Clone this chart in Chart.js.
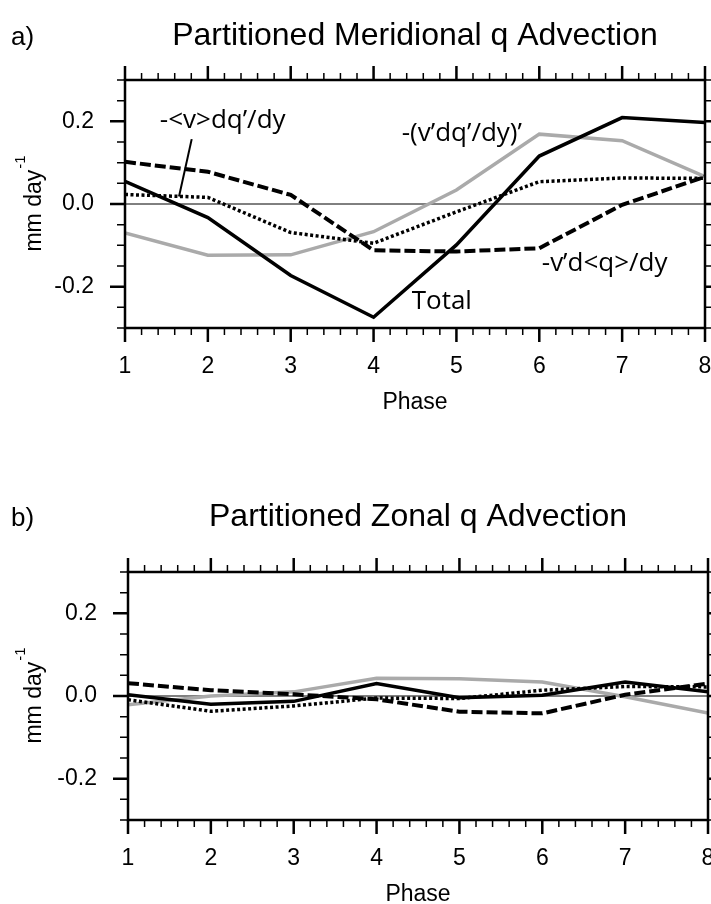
<!DOCTYPE html>
<html>
<head>
<meta charset="utf-8">
<script src="https://cdn.jsdelivr.net/npm/chart.js@4.4.0/dist/chart.umd.min.js"></script>
<style>
  html, body { margin: 0; padding: 0; background: #fff; }
  #wrap { position: relative; width: 711px; height: 904px; overflow: hidden; }
  .panel { position: absolute; left: 0; width: 711px; height: 452px; }
</style>
</head>
<body>
<div id="wrap">
  <div class="panel" style="top:0"><canvas id="chartA" width="711" height="452"></canvas></div>
  <div class="panel" style="top:452px"><canvas id="chartB" width="711" height="452"></canvas></div>
</div>
<script>
    // x축 (Phase)
    const phases = [1, 2, 3, 4, 5, 6, 7, 8];
    // y축 눈금 라벨
    const yTickValues = [-0.2, 0, 0.2];

    // a) Meridional
    const totalA = [0.055, -0.033, -0.173, -0.274, -0.099, 0.116, 0.209, 0.197];
    const eddyA  = [-0.070, -0.124, -0.123, -0.067, 0.034, 0.169, 0.153, 0.066];
    const vpA    = [0.102, 0.078, 0.022, -0.112, -0.115, -0.107, -0.002, 0.066];
    const vbarA  = [0.023, 0.016, -0.069, -0.095, -0.019, 0.054, 0.063, 0.062];

    // b) Zonal
    const totalB = [0.003, -0.020, -0.013, 0.030, -0.004, 0.002, 0.034, 0.010];
    const eddyB  = [-0.021, 0.000, 0.010, 0.043, 0.042, 0.034, -0.002, -0.041];
    const vpB    = [0.031, 0.014, 0.004, -0.008, -0.038, -0.042, 0.003, 0.030];
    const vbarB  = [-0.009, -0.037, -0.024, -0.005, -0.006, 0.014, 0.023, 0.022];

    Chart.defaults.font.family = '"Liberation Sans", Arial, sans-serif';
    Chart.defaults.color = '#000';

    function pts(arr) {
        return phases.map((p, i) => ({ x: p, y: arr[i] }));
    }

    // 선 4개 (Total 이 맨 위)
    function makeSets(total, eddy, vp, vbar) {
        return [
            { label: 'Total', data: pts(total), borderColor: '#000', borderWidth: 3.5, order: 0 },
            { label: '-<v>dq’/dy', data: pts(vbar), borderColor: '#000', borderWidth: 3.5, borderDash: [3, 2.5], order: 1 },
            { label: '-v’d<q>/dy', data: pts(vp), borderColor: '#000', borderWidth: 4, borderDash: [11, 4], order: 2 },
            { label: '-(v’dq’/dy)’', data: pts(eddy), borderColor: '#aaaaaa', borderWidth: 3.5, order: 3 },
        ].map(d => Object.assign(d, { pointRadius: 0, tension: 0, fill: false }));
    }

    // 테두리, 바깥쪽 눈금, 제목, 축 이름, 선 이름
    const frame = {
        id: 'frame',
        beforeDatasetsDraw(chart) {
            const { ctx, chartArea: a, scales: { y } } = chart;
            const y0 = y.getPixelForValue(0);
            ctx.save();
            ctx.strokeStyle = '#000';
            ctx.lineWidth = 1;
            ctx.beginPath();
            ctx.moveTo(a.left, y0);
            ctx.lineTo(a.right, y0);
            ctx.stroke();
            ctx.restore();
        },
        afterDraw(chart, args, o) {
            const { ctx, chartArea: a, scales: { x, y } } = chart;
            ctx.save();
            ctx.strokeStyle = '#000';
            ctx.fillStyle = '#000';
            ctx.lineCap = 'butt';

            // x 눈금 (위, 아래)
            for (let i = 0; i <= 35; i++) {
                const px = x.getPixelForValue(1 + i * 0.2);
                const major = i % 5 === 0;
                const len = major ? 14 : 7;
                ctx.lineWidth = major ? 2.5 : 1.5;
                ctx.beginPath();
                ctx.moveTo(px, a.top); ctx.lineTo(px, a.top - len);
                ctx.moveTo(px, a.bottom); ctx.lineTo(px, a.bottom + len);
                ctx.stroke();
            }
            // y 눈금 (왼쪽, 오른쪽)
            for (let i = -6; i <= 6; i++) {
                const py = y.getPixelForValue(i * 0.05);
                const major = i % 4 === 0;
                const len = major ? 15 : 8;
                ctx.lineWidth = major ? 2.5 : 1.5;
                ctx.beginPath();
                ctx.moveTo(a.left, py); ctx.lineTo(a.left - len, py);
                ctx.moveTo(a.right, py); ctx.lineTo(a.right + len, py);
                ctx.stroke();
            }
            ctx.lineWidth = 2.5;
            ctx.strokeRect(a.left, a.top, a.right - a.left, a.bottom - a.top);

            // 제목
            const cx = (a.left + a.right) / 2;
            ctx.textBaseline = 'alphabetic';
            ctx.textAlign = 'center';
            ctx.font = '32px "Liberation Sans"';
            ctx.fillText(o.title, cx, o.titleY);
            ctx.textAlign = 'left';
            ctx.font = '26px "Liberation Sans"';
            ctx.fillText(o.letter, 11, o.titleY);

            // x축 이름
            ctx.textAlign = 'center';
            ctx.font = '23px "Liberation Sans"';
            ctx.fillText('Phase', cx, a.bottom + 81);

            // y축 이름 (mm day^-1)
            ctx.save();
            ctx.translate(41, (a.top + a.bottom) / 2);
            ctx.rotate(-Math.PI / 2);
            ctx.textAlign = 'left';
            ctx.font = '23px "Liberation Sans"';
            const w1 = ctx.measureText('mm day').width;
            ctx.font = '15px "Liberation Sans"';
            const w2 = ctx.measureText('-1').width;
            const sx = -(w1 + w2) / 2;
            ctx.font = '23px "Liberation Sans"';
            ctx.fillText('mm day', sx, 0);
            ctx.font = '15px "Liberation Sans"';
            ctx.fillText('-1', sx + w1 + 1, -16);
            ctx.restore();

            // 선 이름
            if (o.notes) {
                ctx.font = '26px "Open Sans"';
                ctx.textAlign = 'left';
                o.notes.forEach(n => {
                    ctx.fillText(n.text, x.getPixelForValue(n.x), y.getPixelForValue(n.y));
                });
            }
            if (o.leader) {
                const l = o.leader;
                ctx.lineWidth = 2;
                ctx.beginPath();
                ctx.moveTo(x.getPixelForValue(l[0]), y.getPixelForValue(l[1]));
                ctx.lineTo(x.getPixelForValue(l[2]), y.getPixelForValue(l[3]));
                ctx.stroke();
            }
            ctx.restore();
        }
    };

    function makeConfig(sets, p) {
        return {
            type: 'line',
            data: { datasets: sets },
            options: {
                responsive: false,
                animation: false,
                devicePixelRatio: 1,
                layout: { padding: { left: 0, right: p.padRight, top: p.padTop, bottom: 0 } },
                plugins: {
                    legend: { display: false },
                    tooltip: { enabled: false },
                    frame: p.frame
                },
                scales: {
                    x: {
                        type: 'linear', min: 1, max: 8,
                        afterBuildTicks: s => { s.ticks = phases.map(v => ({ value: v })); },
                        afterFit: s => { s.height = p.xHeight; s.paddingLeft = 0; s.paddingRight = 0; },
                        grid: { display: false, drawTicks: false },
                        border: { display: false },
                        ticks: { padding: 25, font: { size: 23 }, color: '#000', maxRotation: 0, autoSkip: false,
                                 callback: v => String(v) }
                    },
                    y: {
                        type: 'linear', min: -0.3, max: 0.3,
                        afterBuildTicks: s => { s.ticks = yTickValues.map(v => ({ value: v })); },
                        afterFit: s => { s.width = p.yWidth; s.paddingTop = 0; s.paddingBottom = 0; },
                        grid: { display: false, drawTicks: false },
                        border: { display: false },
                        ticks: { padding: 31, font: { size: 23 }, color: '#000',
                                 callback: v => Number(v).toFixed(1) }
                    }
                }
            },
            plugins: [frame]
        };
    }

    let chartA = new Chart(document.getElementById('chartA'), makeConfig(
        makeSets(totalA, eddyA, vpA, vbarA),
        {
            padRight: 6, padTop: 80, xHeight: 124, yWidth: 125,
            frame: {
                title: 'Partitioned Meridional q Advection', letter: 'a)', titleY: 45,
                notes: [
                    { text: '-<v>dq’/dy', x: 1.42, y: 0.183 },
                    { text: '-(v’dq’/dy)’', x: 4.34, y: 0.152 },
                    { text: '-v’d<q>/dy', x: 6.03, y: -0.161 },
                    { text: 'Total', x: 4.46, y: -0.253 }
                ],
                leader: [1.805, 0.157, 1.652, 0.018]
            }
        }));

    let chartB = new Chart(document.getElementById('chartB'), makeConfig(
        makeSets(totalB, eddyB, vpB, vbarB),
        {
            padRight: 3, padTop: 120, xHeight: 84, yWidth: 128,
            frame: { title: 'Partitioned Zonal q Advection', letter: 'b)', titleY: 74 }
        }));
</script>
</body>
</html>
